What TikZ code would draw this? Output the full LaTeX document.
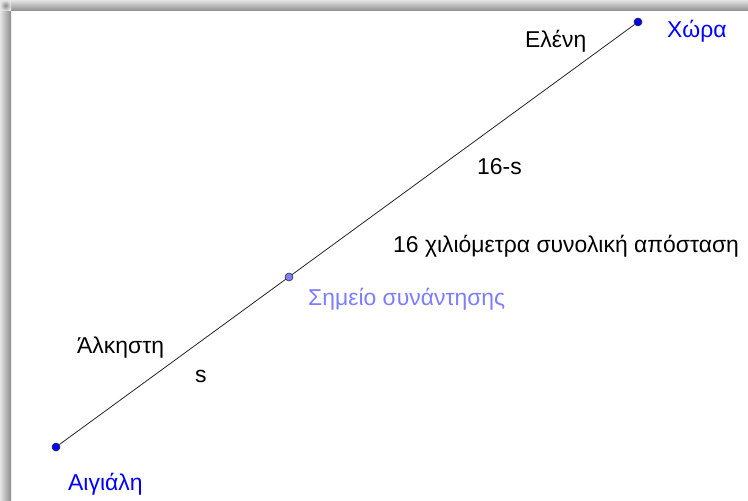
\documentclass[tikz,border=0pt]{standalone}
\usepackage{fontspec}
\setmainfont{Liberation Sans}
\usetikzlibrary{positioning,calc}

\definecolor{ptblue}{RGB}{0,0,255}
\definecolor{meetblue}{RGB}{125,125,255}

\begin{document}
\begin{tikzpicture}[
  x=1bp, y=-1bp,
  dot/.style={circle, draw=black!80, line width=0.6bp, inner sep=0pt, minimum size=8bp},
  lbl/.style={anchor=base west, inner sep=0pt, font=\fontsize{23}{23}\selectfont},
  place/.style={lbl, text=ptblue},
  seg/.style={draw=black!85, line width=0.8bp}
]
\useasboundingbox (0,0) rectangle (748,501);
\fill[white] (0,0) rectangle (748,501);
% frame shadow
\shade[top color=black!10, bottom color=black!45] (11,0) rectangle (748,11);
\shade[left color=black!10, right color=black!45] (0,11) rectangle (11,501);
\shade[inner color=black!45, outer color=black!10] (0,0) rectangle (11,11);

\node[dot, fill=ptblue] (aigiali) at (56,447) {};
\node[dot, fill=ptblue] (chora) at (638,22) {};
\draw[seg] (aigiali) -- (chora);
\node[dot, fill=meetblue] (meet) at (289,277) {};

\node[place] (aigialiname) at (68,490) {Αιγιάλη};
\node[place] (choraname) at (667,38) {Χώρα};
\node[lbl, text=meetblue] (meetname) at (308,305) {Σημείο συνάντησης};

\node[lbl] (eleni) at (525,48) {Ελένη};
\node[lbl] (alkisti) at (77,353) {Άλκηστη};
\node[lbl] (rest) at (477,175) {16-s};
\node[lbl] (part) at (195,382) {s};
\node[lbl] (total) at (393,253) {16 χιλιόμετρα συνολική απόσταση};
\end{tikzpicture}
\end{document}
